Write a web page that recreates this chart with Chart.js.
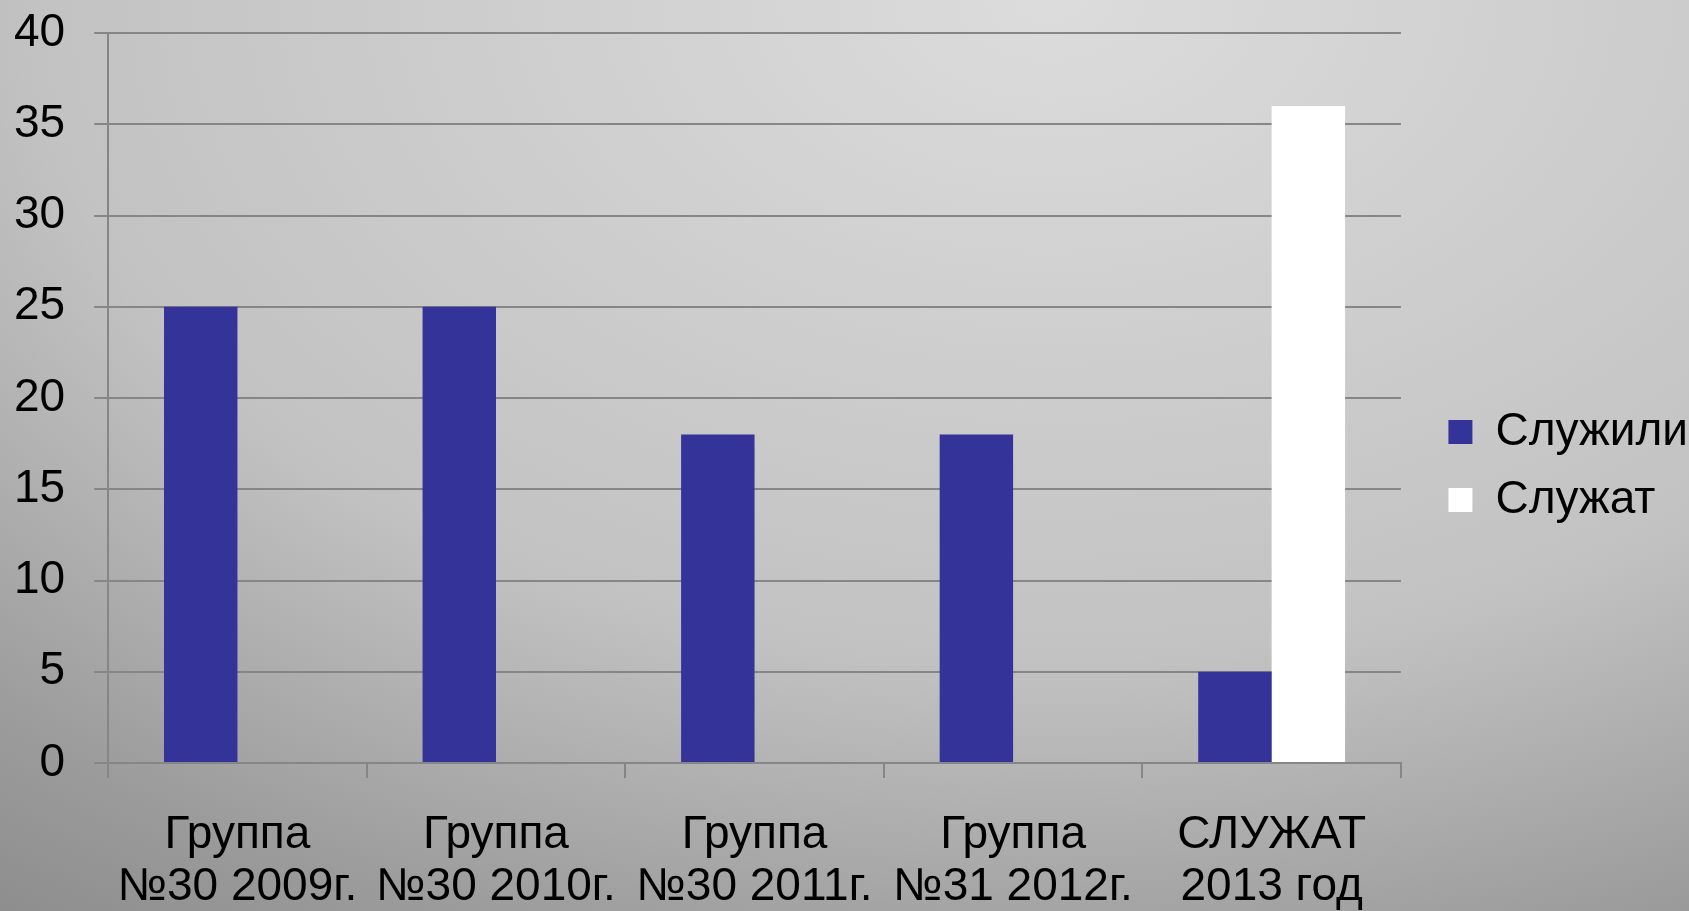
<!DOCTYPE html>
<html>
<head>
<meta charset="utf-8">
<script src="https://cdn.jsdelivr.net/npm/chart.js@4/dist/chart.umd.min.js"></script>
<style>
  html, body { margin: 0; padding: 0; width: 1689px; height: 911px; overflow: hidden; }
  body { background: radial-gradient(1700px 1100px at 1050px 0px, #dcdcdc 0%, #c2c2c2 60%, #9b9b9b 90%, #8c8c8c 105%); }
  #wrap { position: absolute; left: 0; top: 0; width: 1689px; height: 911px; }
</style>
</head>
<body>
<div id="wrap"><canvas id="c"></canvas></div>
<script>
const categories = [
  ["Группа", "№30 2009г."],
  ["Группа", "№30 2010г."],
  ["Группа", "№30 2011г."],
  ["Группа", "№31 2012г."],
  ["СЛУЖАТ", "2013 год"]
];
const seriesNames = ["Служили", "Служат"];
const servedValues = [25, 25, 18, 18, 5];
const servingValues = [null, null, null, null, 36];
const yTicks = [0, 5, 10, 15, 20, 25, 30, 35, 40];

Chart.defaults.font.family = "'Liberation Sans', Arial, sans-serif";
Chart.defaults.color = "#000000";

const gridColor = "#868686";

new Chart(document.getElementById("c"), {
  type: "bar",
  data: {
    labels: categories,
    datasets: [
      { label: seriesNames[0], data: servedValues, backgroundColor: "#333399", borderWidth: 0 },
      { label: seriesNames[1], data: servingValues, backgroundColor: "#ffffff", borderWidth: 0 }
    ]
  },
  options: {
    responsive: true,
    maintainAspectRatio: false,
    animation: false,
    datasets: { bar: { categoryPercentage: 0.568, barPercentage: 1.0 } },
    layout: { padding: { left: -15, top: 33, right: -9, bottom: -33 } },
    plugins: {
      tooltip: { enabled: false },
      legend: {
        position: "right",
        align: "start",
        title: { display: true, text: "", font: { size: 10 }, padding: { top: 342, bottom: 0 } },
        labels: {
          font: { size: 46 },
          color: "#000000",
          boxWidth: 24,
          boxHeight: 24,
          padding: 22
        }
      }
    },
    scales: {
      x: {
        grid: { display: true, drawOnChartArea: false, drawTicks: true, tickLength: 15, color: gridColor, lineWidth: 2, offset: true },
        border: { display: true, color: gridColor, width: 2 },
        ticks: { font: { size: 46, lineHeight: 1.13 }, color: "#000000", padding: 31, maxRotation: 0, autoSkip: false }
      },
      y: {
        min: 0, max: 40,
        afterBuildTicks: (s) => { s.ticks = yTicks.map(v => ({ value: v })); },
        afterFit: (s) => { s.paddingTop = 0; },
        grid: { color: gridColor, lineWidth: 2, tickLength: 14, drawTicks: true },
        border: { display: true, color: gridColor, width: 2 },
        ticks: { font: { size: 46 }, color: "#000000", padding: 29 }
      },
      pad: {
        type: "linear",
        position: "right",
        display: true,
        grid: { display: false },
        border: { display: false },
        ticks: { display: false },
        afterFit: (s) => { s.width = 25.5; }
      }
    }
  }
});
</script>
</body>
</html>
